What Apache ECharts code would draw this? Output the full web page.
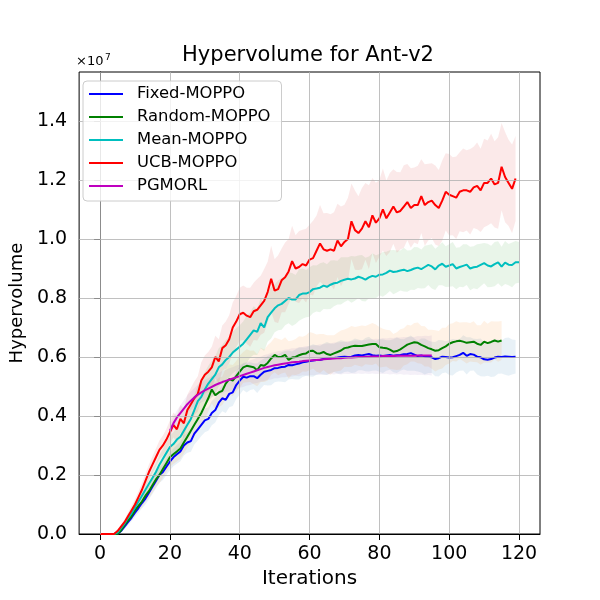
<!DOCTYPE html>
<html><head><meta charset="utf-8">
<script src="https://cdn.jsdelivr.net/npm/echarts@6/dist/echarts.min.js"></script>
<style>html,body{margin:0;padding:0;background:#fff}#c{width:600px;height:600px}</style>
</head><body><div id="c"></div>
<script>
// values in units of 1e7
const fixedStart = 0;
const fixedMean = [0,0,0,0,0, 0,0.01,0.025,0.04,0.055,
0.072,0.088,0.105,0.12,0.14,0.16,0.18,0.20,0.21,0.228,
0.245,0.26,0.27,0.28,0.30,0.31,0.315,0.34,0.355,0.37,
0.385,0.39,0.41,0.42,0.445,0.46,0.455,0.475,0.48,0.505,
0.52,0.533,0.53,0.535,0.535,0.528,0.54,0.55,0.553,0.556,
0.562,0.563,0.566,0.567,0.573,0.572,0.575,0.578,0.582,0.584,
0.586,0.588,0.59,0.59,0.593,0.595,0.596,0.597,0.598,0.60,
0.601,0.60,0.601,0.605,0.607,0.605,0.608,0.61,0.606,0.604,
0.605,0.603,0.605,0.607,0.604,0.606,0.607,0.609,0.61,0.613,
0.608,0.603,0.605,0.602,0.601,0.599,0.593,0.596,0.601,0.60,
0.598,0.599,0.603,0.607,0.614,0.604,0.61,0.608,0.601,0.599,
0.592,0.591,0.593,0.598,0.601,0.60,0.602,0.601,0.60,0.601];
const fixedStd = [0,0,0,0,0,0,
0.005,0.008,0.01,0.012,0.014,
0.016,0.018,0.02,0.022,0.024,0.025,0.026,0.027,0.028,0.03,
0.03,0.032,0.033,0.034,0.035,0.036,0.037,0.038,0.038,0.04,0.04,0.041,0.042,0.043,0.044,0.045,0.045,0.046,0.047,0.048,
0.045,0.05,0.047,0.044,0.05,0.048,0.045,0.05,0.052,0.048,0.046,0.05,0.053,0.049,0.047,0.051,0.054,0.05,0.048,0.052,
0.055,0.05,0.047,0.053,0.056,0.05,0.048,0.054,0.057,0.052,0.049,0.055,0.058,0.052,0.05,0.056,0.059,0.053,0.05,0.055,
0.057,0.052,0.05,0.056,0.06,0.054,0.051,0.057,0.06,0.055,0.052,0.058,0.061,0.055,0.053,0.058,0.062,0.056,0.053,0.059,
0.062,0.056,0.054,0.06,0.063,0.057,0.054,0.06,0.064,0.058,0.055,0.061,0.064,0.058,0.056,0.062,0.065,0.059,0.057];

const randomStart = 0;
const randomMean = [0,0,0,0,0, 0,0.012,0.03,0.045,0.06,
0.08,0.095,0.11,0.13,0.145,0.165,0.185,0.20,0.22,0.24,
0.26,0.27,0.28,0.29,0.31,0.33,0.35,0.37,0.39,0.41,
0.435,0.46,0.49,0.47,0.48,0.485,0.51,0.525,0.52,0.535,
0.55,0.565,0.57,0.568,0.565,0.555,0.573,0.57,0.58,0.595,
0.607,0.60,0.601,0.607,0.59,0.598,0.60,0.606,0.61,0.612,
0.62,0.621,0.613,0.612,0.617,0.61,0.607,0.612,0.617,0.622,
0.63,0.632,0.636,0.638,0.637,0.637,0.64,0.642,0.644,0.644,
0.633,0.631,0.63,0.625,0.618,0.62,0.626,0.634,0.642,0.646,
0.65,0.648,0.641,0.636,0.63,0.626,0.621,0.623,0.63,0.636,
0.645,0.65,0.653,0.655,0.652,0.648,0.65,0.652,0.645,0.641,
0.652,0.647,0.651,0.656,0.652,0.656];
const randomStd = [0,0,0,0,0,0,
0.005,0.008,0.01,0.012,0.015,
0.017,0.019,0.021,0.023,0.025,0.026,0.028,0.029,0.03,0.032,
0.033,0.034,0.035,0.037,0.038,0.04,0.041,0.042,0.043,0.045,0.046,0.048,0.047,0.05,0.048,0.052,0.05,0.053,0.051,0.055,
0.052,0.056,0.053,0.057,0.054,0.058,0.055,0.06,0.056,0.059,0.062,0.057,0.06,0.063,0.058,0.061,0.064,0.059,0.062,0.065,
0.06,0.063,0.066,0.061,0.064,0.067,0.062,0.065,0.068,0.063,0.066,0.069,0.064,0.067,0.07,0.065,0.068,0.071,0.066,0.069,
0.065,0.062,0.066,0.06,0.064,0.068,0.063,0.067,0.061,0.065,0.069,0.064,0.068,0.062,0.066,0.07,0.065,0.069,0.063,0.067,
0.064,0.068,0.062,0.066,0.07,0.065,0.069,0.063,0.067,0.071,0.066,0.07,0.064,0.068,0.066];

const meanStart = 0;
const meanMean = [0,0,0,0,0, 0.005,0.02,0.035,0.055,0.07,
0.09,0.11,0.13,0.15,0.17,0.19,0.21,0.235,0.255,0.275,
0.295,0.305,0.32,0.33,0.35,0.37,0.39,0.42,0.45,0.465,
0.49,0.51,0.525,0.54,0.565,0.575,0.59,0.60,0.615,0.625,
0.635,0.645,0.66,0.675,0.69,0.685,0.715,0.70,0.735,0.75,
0.765,0.775,0.78,0.79,0.80,0.795,0.795,0.81,0.815,0.815,
0.82,0.83,0.832,0.835,0.842,0.838,0.845,0.85,0.852,0.858,
0.862,0.865,0.863,0.866,0.872,0.868,0.862,0.87,0.875,0.872,
0.879,0.88,0.885,0.893,0.888,0.89,0.893,0.896,0.891,0.895,
0.90,0.903,0.898,0.905,0.912,0.907,0.897,0.91,0.916,0.906,
0.91,0.915,0.90,0.905,0.909,0.913,0.90,0.904,0.906,0.912,
0.918,0.91,0.907,0.915,0.921,0.906,0.92,0.913,0.912,0.921,0.921];
const meanStd = [0,0,0,0,0,0.003,
0.006,0.009,0.012,0.015,0.018,
0.02,0.022,0.024,0.026,0.028,0.03,0.032,0.034,0.036,0.038,
0.04,0.042,0.044,0.046,0.048,0.05,0.052,0.054,0.056,0.058,0.06,0.062,0.063,0.065,0.066,0.068,0.069,0.07,0.072,0.073,
0.075,0.08,0.077,0.082,0.078,0.085,0.08,0.083,0.087,0.081,0.084,0.088,0.082,0.086,0.09,0.083,0.087,0.085,0.08,0.084,
0.081,0.078,0.083,0.079,0.076,0.082,0.078,0.074,0.08,0.076,0.073,0.079,0.075,0.072,0.078,0.074,0.071,0.077,0.073,0.07,
0.076,0.072,0.069,0.075,0.071,0.068,0.074,0.07,0.067,0.073,0.069,0.066,0.072,0.068,0.075,0.07,0.067,0.073,0.069,0.072,
0.075,0.07,0.067,0.073,0.069,0.074,0.071,0.076,0.072,0.068,0.074,0.07,0.075,0.071,0.068,0.073,0.07,0.076,0.072,0.069];

const ucbStart = 0;
const ucbMean = [0,0,0,0,0, 0.01,0.025,0.04,0.06,0.08,
0.10,0.125,0.15,0.18,0.21,0.235,0.26,0.285,0.30,0.32,
0.345,0.37,0.355,0.39,0.375,0.42,0.44,0.46,0.475,0.52,
0.54,0.55,0.565,0.60,0.585,0.63,0.64,0.66,0.70,0.72,
0.745,0.75,0.74,0.735,0.755,0.76,0.775,0.79,0.82,0.865,
0.825,0.83,0.86,0.87,0.89,0.925,0.90,0.905,0.915,0.91,
0.93,0.935,0.96,0.985,0.965,0.96,0.965,0.96,0.995,0.975,
0.99,1.0,1.06,1.03,1.02,1.035,1.06,1.04,1.08,1.055,
1.07,1.10,1.07,1.09,1.11,1.09,1.095,1.11,1.125,1.105,
1.115,1.115,1.145,1.115,1.125,1.13,1.115,1.105,1.13,1.16,
1.15,1.145,1.14,1.16,1.165,1.165,1.16,1.175,1.18,1.165,
1.19,1.19,1.205,1.185,1.19,1.245,1.21,1.19,1.17,1.205];
const ucbStd = [0,0,0,0,0,0.003,
0.006,0.009,0.012,0.015,0.018,
0.02,0.022,0.024,0.026,0.028,0.03,0.032,0.034,0.036,0.04,
0.042,0.045,0.047,0.05,0.052,0.055,0.057,0.06,0.062,0.065,0.067,0.07,0.072,0.075,0.077,0.08,0.082,0.085,0.087,0.09,
0.092,0.095,0.1,0.097,0.104,0.1,0.108,0.103,0.112,0.106,0.115,0.108,0.118,0.11,0.12,0.113,0.122,0.116,0.125,0.118,
0.127,0.12,0.13,0.122,0.128,0.119,0.131,0.124,0.135,0.126,0.14,0.128,0.134,0.125,0.138,0.13,0.142,0.127,0.136,0.13,
0.139,0.128,0.134,0.126,0.137,0.131,0.14,0.129,0.135,0.127,0.133,0.125,0.138,0.13,0.127,0.134,0.129,0.136,0.131,0.138,
0.132,0.14,0.134,0.142,0.136,0.145,0.138,0.147,0.141,0.15,0.144,0.152,0.146,0.155,0.148,0.153,0.146,0.15,0.144];

const pgStart = 20;
const pgMean = [0.35,0.375,0.395,0.41,0.425,0.44,0.452,0.463,0.472,0.48,
0.487,0.493,0.499,0.505,0.51,0.515,0.519,0.523,0.527,0.531,
0.535,0.539,0.543,0.547,0.551,0.555,0.559,0.563,0.566,0.569,
0.572,0.574,0.576,0.578,0.58,0.582,0.583,0.584,0.586,0.587,
0.588,0.589,0.59,0.591,0.592,0.593,0.594,0.595,0.596,0.596,
0.597,0.598,0.598,0.599,0.60,0.60,0.601,0.601,0.602,0.602,
0.602,0.603,0.603,0.603,0.603,0.604,0.604,0.604,0.604,0.604,
0.604,0.605,0.605,0.605,0.605,0.605];
const pgStd = [0.02,0.022,0.024,0.026,0.028,0.03,0.031,0.032,0.033,0.034,
0.035,0.036,0.035,0.037,0.036,0.038,0.037,0.039,0.038,0.04,
0.039,0.041,0.04,0.042,0.041,0.043,0.042,0.044,0.043,0.045,
0.044,0.046,0.045,0.047,0.046,0.048,0.047,0.049,0.048,0.05,
0.049,0.051,0.05,0.052,0.051,0.053,0.052,0.054,0.053,0.055,
0.054,0.056,0.055,0.057,0.056,0.058,0.057,0.059,0.058,0.06,
0.059,0.061,0.06,0.062,0.061,0.063,0.062,0.064,0.063,0.065,
0.064,0.066,0.065,0.067,0.066,0.068];

const seriesNames = ['Fixed-MOPPO','Random-MOPPO','Mean-MOPPO','UCB-MOPPO','PGMORL'];
const xTicks = [0,20,40,60,80,100,120];
const yTicks = [0,0.2,0.4,0.6,0.8,1.0,1.2,1.4];

const FONT = 'DejaVu Sans';
const lineColors = ['#0000ff','#008000','#00bfbf','#ff0000','#bf00bf'];
const bandColors = ['rgba(31,119,180,0.1)','rgba(255,127,14,0.1)','rgba(44,160,44,0.1)','rgba(214,39,40,0.1)','rgba(148,103,189,0.1)'];

const groups = [
  [fixedStart, fixedMean, fixedStd],
  [randomStart, randomMean, randomStd],
  [meanStart, meanMean, meanStd],
  [ucbStart, ucbMean, ucbStd],
  [pgStart, pgMean, pgStd]
];

function bandSeries(start, mean, std, color) {
  return {
    type: 'custom', silent: true, z: 1, clip: true, animation: false,
    data: [[start, mean[0]]],
    renderItem: function (params, api) {
      const pts = [];
      for (let i = 0; i < mean.length; i++) pts.push(api.coord([start + i, mean[i] + std[i]]));
      for (let i = mean.length - 1; i >= 0; i--) pts.push(api.coord([start + i, Math.max(0, mean[i] - std[i])]));
      return { type: 'polygon', shape: { points: pts }, style: { fill: color } };
    }
  };
}

const series = [];
series.push({
  type: 'line', data: [], z: 2, silent: true, animation: false,
  markLine: {
    silent: true, symbol: ['none', 'none'], label: { show: false }, animation: false,
    lineStyle: { color: '#b0b0b0', width: 0.8, type: 'solid' },
    emphasis: { disabled: true },
    data: xTicks.map(v => ({ xAxis: v })).concat(yTicks.filter(v => v > 0).map(v => ({ yAxis: v })))
  }
});
groups.forEach((g, k) => {
  series.push(bandSeries(g[0], g[1], g[2], bandColors[k]));
  series.push({
    type: 'line', name: seriesNames[k], z: 3 + k * 0.01, animation: false,
    data: g[1].map((v, i) => [g[0] + i, v]),
    symbol: 'none', showSymbol: false,
    lineStyle: { width: 2, color: lineColors[k] },
    itemStyle: { color: lineColors[k] },
    emphasis: { disabled: true }
  });
});

const chart = echarts.init(document.getElementById('c'), null, { renderer: 'canvas' });
chart.setOption({
  animation: false,
  backgroundColor: '#ffffff',
  grid: { left: 75, right: 60, top: 72, bottom: 66, show: true, borderColor: '#000', borderWidth: 1, backgroundColor: 'transparent' },
  xAxis: {
    type: 'value', min: -6, max: 126,
    axisLine: { show: true, lineStyle: { color: '#000', width: 1 } },
    axisTick: { show: true, customValues: xTicks, length: 6, lineStyle: { color: '#000' } },
    axisLabel: { customValues: xTicks, fontSize: 19, color: '#000', margin: 11, fontFamily: FONT },
    splitLine: { show: false },
    name: 'Iterations', nameLocation: 'middle', nameGap: 33,
    nameTextStyle: { fontSize: 20, color: '#000', fontFamily: FONT }
  },
  yAxis: {
    type: 'value', min: 0, max: 1.566, interval: 0.2,
    axisLine: { show: true, lineStyle: { color: '#000', width: 1 } },
    axisTick: { show: true, customValues: yTicks, length: 6, lineStyle: { color: '#000' } },
    axisLabel: { customValues: yTicks, fontSize: 19, color: '#000', margin: 12, fontFamily: FONT, formatter: v => v.toFixed(1) },
    splitLine: { show: false },
    name: 'Hypervolume', nameLocation: 'middle', nameGap: 48, nameRotate: 90,
    nameTextStyle: { fontSize: 18, color: '#000', fontFamily: FONT }
  },
  legend: {
    data: seriesNames.map(n => ({ name: n, icon: 'rect' })),
    orient: 'vertical', left: 83, top: 81, z: 10,
    itemWidth: 34, itemHeight: 2, itemGap: 7,
    padding: [5, 11, 7, 6],
    backgroundColor: 'rgba(255,255,255,0.8)', borderColor: '#cccccc', borderWidth: 1, borderRadius: 4,
    selectedMode: false,
    textStyle: { fontFamily: FONT, fontSize: 16.4, color: '#000', padding: [0, 0, 0, 9] }
  },
  graphic: [
    { type: 'text', x: 308, y: 56, style: { text: 'Hypervolume for Ant-v2', fontFamily: FONT, fontSize: 21, fill: '#000', textAlign: 'center', textVerticalAlign: 'middle' } },
    { type: 'text', x: 76, y: 62, style: { text: '×10', fontFamily: FONT, fontSize: 13, fill: '#000', textAlign: 'left', textVerticalAlign: 'middle' } },
    { type: 'text', x: 105, y: 58, style: { text: '7', fontFamily: FONT, fontSize: 9, fill: '#000', textAlign: 'left', textVerticalAlign: 'middle' } }
  ],
  series: series
});
</script>
</body></html>
